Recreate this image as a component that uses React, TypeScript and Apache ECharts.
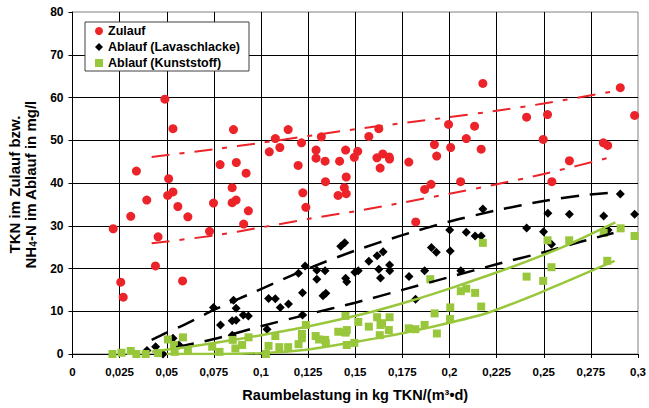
import React, { useEffect, useRef } from 'react';
import * as echarts from 'echarts';

const xTickStep = 0.025;
const yTickStep = 10;

const zulauf: [number, number][] = [
  [0.0216, 29.3], [0.0256, 16.8], [0.0269, 13.3], [0.0309, 32.2], [0.0339, 42.8], [0.0394, 36.0],
  [0.044, 20.6], [0.0454, 27.4], [0.049, 59.6], [0.0505, 37.1], [0.051, 41.0], [0.0533, 52.7],
  [0.0533, 37.9], [0.0559, 34.5], [0.0584, 17.1], [0.0612, 32.1], [0.0727, 28.7], [0.0748, 35.3],
  [0.0783, 44.3], [0.0847, 38.9], [0.0847, 35.4], [0.0854, 52.5], [0.0868, 36.0], [0.0869, 44.8],
  [0.0908, 30.4], [0.0921, 42.3], [0.0933, 33.5], [0.1044, 47.3], [0.1076, 50.4], [0.11, 48.3],
  [0.1144, 52.5], [0.1197, 44.1], [0.1215, 49.4], [0.1222, 37.7], [0.1238, 34.3], [0.1292, 47.7],
  [0.1292, 45.8], [0.132, 50.8], [0.134, 45.1], [0.1342, 40.3], [0.1409, 37.1], [0.1417, 45.1],
  [0.1442, 38.9], [0.1449, 47.7], [0.1452, 41.4], [0.1452, 37.5], [0.1495, 46.0], [0.1513, 47.4],
  [0.1572, 50.9], [0.1615, 45.9], [0.1625, 52.7], [0.1632, 43.5], [0.1646, 46.8], [0.168, 46.1],
  [0.1682, 45.6], [0.1784, 44.9], [0.1821, 30.9], [0.1868, 38.5], [0.1902, 39.7], [0.192, 49.0],
  [0.1932, 46.3], [0.1995, 53.7], [0.2006, 48.3], [0.2059, 40.3], [0.2089, 50.4], [0.2133, 53.3],
  [0.2168, 47.9], [0.2177, 63.3], [0.2409, 55.4], [0.2497, 50.2], [0.252, 56.0], [0.2543, 40.3],
  [0.2636, 45.2], [0.2816, 49.4], [0.2839, 48.8], [0.2906, 62.3], [0.2982, 55.8],
];

const lavaschlacke: [number, number][] = [
  [0.0395, 0.8], [0.0441, 1.7], [0.048, 0], [0.0533, 3.7], [0.0565, 2.1], [0.0748, 10.9],
  [0.0785, 6.8], [0.0847, 7.8], [0.0847, 4.4], [0.0854, 12.6], [0.0868, 10.7], [0.0868, 7.9],
  [0.0906, 9.1], [0.0933, 8.9], [0.1032, 5.8], [0.104, 13.0], [0.1076, 12.9], [0.1102, 10.9],
  [0.1146, 11.7], [0.1199, 18.9], [0.122, 14.3], [0.122, 9.1], [0.1234, 20.6], [0.1296, 19.6],
  [0.1296, 17.5], [0.1329, 13.6], [0.1344, 14.2], [0.134, 19.5], [0.1423, 25.2], [0.1444, 26.0],
  [0.1449, 17.7], [0.1455, 16.9], [0.1498, 19.1], [0.1516, 19.5], [0.1572, 21.7], [0.1616, 23.0],
  [0.1625, 19.8], [0.1634, 17.8], [0.1648, 23.9], [0.1682, 20.8], [0.1683, 19.5], [0.1785, 18.1],
  [0.182, 12.8], [0.1868, 19.5], [0.1904, 24.9], [0.193, 23.8], [0.2001, 29.0], [0.2004, 24.1],
  [0.206, 19.5], [0.2089, 28.5], [0.2136, 27.6], [0.2168, 27.6], [0.2177, 33.9], [0.2409, 29.5],
  [0.2499, 28.6], [0.2522, 32.9], [0.2541, 25.7], [0.2636, 32.7], [0.2818, 32.3], [0.2841, 29.0],
  [0.2906, 37.4], [0.2982, 32.7],
];

const kunststoff: [number, number][] = [
  [0.0212, 0], [0.026, 0.3], [0.0309, 0.7], [0.0339, 0], [0.0388, 0], [0.0454, 0.2],
  [0.0506, 3.4], [0.0538, 2.1], [0.0542, 0.5], [0.0586, 3.9], [0.0612, 0.8], [0.0741, 1.7],
  [0.078, 0.5], [0.085, 3.3], [0.0864, 1.3], [0.09, 2.1], [0.0934, 3.9], [0.1026, 0],
  [0.104, 1.9], [0.1076, 4.2], [0.1097, 1.6], [0.1144, 1.6], [0.1199, 2.3], [0.1217, 4.7],
  [0.1217, 3.7], [0.1238, 6.8], [0.129, 4.2], [0.1308, 3.4], [0.134, 3.3], [0.1344, 2.5],
  [0.141, 5.2], [0.1449, 5.0], [0.1455, 5.6], [0.1448, 8.9], [0.1455, 2.1], [0.1495, 2.6],
  [0.1516, 7.5], [0.1572, 6.4], [0.1616, 8.6], [0.163, 4.4], [0.1642, 7.2], [0.1634, 6.8],
  [0.1682, 8.6], [0.1678, 5.6], [0.1784, 6.0], [0.1819, 5.8], [0.1868, 6.8], [0.1921, 9.5],
  [0.1933, 4.8], [0.1898, 17.5], [0.2003, 8.2], [0.2004, 10.9], [0.206, 14.7], [0.2089, 15.3],
  [0.2136, 14.3], [0.2168, 11.1], [0.2177, 26.0], [0.2409, 18.1], [0.2497, 17.1], [0.2541, 20.3],
  [0.252, 26.6], [0.2635, 26.6], [0.2818, 28.3], [0.2837, 21.8], [0.2908, 29.4], [0.2982, 27.6],
];

const zulaufUpper: [number, number][] = [
  [0.042, 46.1], [0.075, 47.9], [0.1, 49.4], [0.125, 51.0], [0.15, 52.6], [0.175, 54.0],
  [0.2, 55.4], [0.225, 56.9], [0.25, 58.6], [0.288, 61.5],
];
const zulaufLower: [number, number][] = [
  [0.042, 25.9], [0.075, 27.7], [0.1, 29.6], [0.125, 31.6], [0.15, 33.4], [0.175, 35.4],
  [0.2, 37.5], [0.225, 39.7], [0.25, 42.1], [0.288, 46.3],
];
const lavaUpper: [number, number][] = [
  [0.042, 3.3], [0.05, 5.0], [0.06, 7.0], [0.075, 10.3], [0.1, 15.2], [0.125, 20.0],
  [0.15, 24.2], [0.175, 27.8], [0.2, 31.0], [0.225, 33.6], [0.25, 35.8], [0.27, 37.1],
  [0.287, 37.8],
];
const lavaLower: [number, number][] = [
  [0.055, 1.6], [0.075, 3.5], [0.1, 6.5], [0.125, 9.3], [0.15, 12.0], [0.175, 15.0],
  [0.2, 18.0], [0.225, 21.0], [0.25, 23.8], [0.27, 26.3], [0.287, 28.3],
];
const kunstUpper: [number, number][] = [
  [0.042, 0.5], [0.06, 1.6], [0.08, 2.9], [0.1, 4.4], [0.12, 6.0], [0.14, 7.9], [0.16, 10.0],
  [0.18, 12.5], [0.2, 15.3], [0.22, 18.3], [0.24, 21.5], [0.26, 25.0], [0.288, 30.8],
];
const kunstLower: [number, number][] = [
  [0.05, 0], [0.08, 0], [0.1, 0.2], [0.12, 0.8], [0.14, 2.1], [0.16, 3.6], [0.18, 5.3],
  [0.2, 7.3], [0.22, 9.6], [0.24, 12.9], [0.26, 16.6], [0.2876, 21.8],
];

const RED = '#EC2328';
const GREEN = '#99C73C';
const FONT = '"Liberation Sans", Arial, sans-serif';

export default function App() {
  const ref = useRef<HTMLDivElement>(null);
  useEffect(() => {
    const chart = echarts.init(ref.current!, null, { renderer: 'svg' });
    const lineSeries = (name: string, data: [number, number][], color: string, type: any, width: number) => ({
      name,
      type: 'line',
      data,
      showSymbol: false,
      symbol: 'none',
      smooth: 0.25,
      silent: true,
      lineStyle: { color, width, type, opacity: 1 },
      z: 3,
    });
    chart.setOption({
      animation: false,
      backgroundColor: '#fff',
      grid: { left: 72.5, right: 9, top: 12, bottom: 54, show: true, borderColor: '#808080', borderWidth: 1 },
      legend: {
        orient: 'vertical',
        left: 85,
        top: 22,
        backgroundColor: '#fff',
        borderColor: '#404040',
        borderWidth: 1,
        borderRadius: 0,
        padding: [2, 9, 1, 10],
        itemGap: 2,
        itemWidth: 8,
        itemHeight: 8,
        textStyle: { fontFamily: FONT, fontWeight: 'bold', fontSize: 12.5, color: '#000', lineHeight: 14 },
        data: [
          { name: 'Zulauf', icon: 'circle' },
          { name: 'Ablauf (Lavaschlacke)', icon: 'diamond' },
          { name: 'Ablauf (Kunststoff)', icon: 'rect' },
        ],
      },
      xAxis: {
        type: 'value',
        min: 0,
        max: 0.3,
        interval: xTickStep,
        name: 'Raumbelastung in kg TKN/(m³•d)',
        nameLocation: 'middle',
        nameGap: 33,
        nameTextStyle: { fontFamily: FONT, fontWeight: 'bold', fontSize: 14.5, color: '#000' },
        axisLine: { lineStyle: { color: '#000', width: 1 } },
        axisTick: { show: true, length: 4, lineStyle: { color: '#000' } },
        axisLabel: {
          margin: 12,
          fontFamily: FONT,
          fontWeight: 'bold',
          fontSize: 11.5,
          color: '#000',
          showMaxLabel: true,
          formatter: (v: number) => (v === 0 ? '0' : String(+v.toFixed(3)).replace('.', ',')),
        },
        splitLine: { show: true, showMinLine: false, showMaxLine: false, lineStyle: { color: '#000', width: 1 } },
      },
      yAxis: {
        type: 'value',
        min: 0,
        max: 80,
        interval: yTickStep,
        axisLine: { show: true, lineStyle: { color: '#000', width: 1 } },
        axisTick: { show: true, length: 4, lineStyle: { color: '#000' } },
        axisLabel: { margin: 9, fontFamily: FONT, fontWeight: 'bold', fontSize: 12, color: '#000' },
        splitLine: { show: true, showMinLine: false, showMaxLine: false, lineStyle: { color: '#000', width: 1 } },
      },
      graphic: [
        {
          type: 'text',
          x: 22.5,
          y: 184.5,
          rotation: Math.PI / 2,
          style: {
            text: '{a|TKN im Zulauf bzw.}\n{a|NH}{s|4}{a|-N im Ablauf in mg/l}',
            align: 'center',
            verticalAlign: 'middle',
            fill: '#000',
            rich: {
              a: { fontFamily: FONT, fontWeight: 'bold', fontSize: 15, lineHeight: 16, fill: '#000' },
              s: { fontFamily: FONT, fontWeight: 'bold', fontSize: 10, lineHeight: 9, verticalAlign: 'bottom', fill: '#000' },
            },
          },
        },
      ],
      series: [
        {
          name: 'Zulauf', type: 'scatter', data: zulauf, symbol: 'circle', symbolSize: 9,
          itemStyle: { color: RED, opacity: 1 }, z: 2,
        },
        {
          name: 'Ablauf (Lavaschlacke)', type: 'scatter', data: lavaschlacke, symbol: 'diamond', symbolSize: 9,
          itemStyle: { color: '#000', opacity: 1 }, z: 2,
        },
        {
          name: 'Ablauf (Kunststoff)', type: 'scatter', data: kunststoff, symbol: 'rect', symbolSize: 8,
          itemStyle: { color: GREEN, opacity: 1 }, z: 2,
        },
        lineSeries('Zulauf oben', zulaufUpper, RED, [18, 10, 5, 10], 2),
        lineSeries('Zulauf unten', zulaufLower, RED, [18, 10, 5, 10], 2),
        lineSeries('Lava oben', lavaUpper, '#000', [18, 11], 2.5),
        lineSeries('Lava unten', lavaLower, '#000', [18, 11], 2.5),
        lineSeries('Kunst oben', kunstUpper, GREEN, 'solid', 2.5),
        lineSeries('Kunst unten', kunstLower, GREEN, 'solid', 2.5),
      ],
    });
    return () => chart.dispose();
  }, []);
  return (
    <div
      ref={ref}
      style={{ position: 'fixed', left: 0, top: 0, width: 649, height: 408, background: '#fff' }}
    />
  );
}
